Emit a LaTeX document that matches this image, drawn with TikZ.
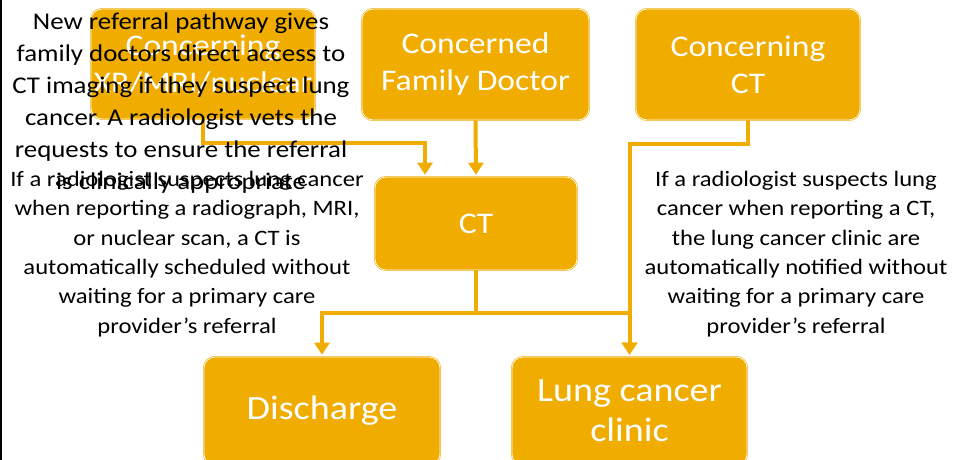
\documentclass[tikz,border=0pt]{standalone}
\usepackage{fontspec}
\setmainfont{Carlito}[FakeStretch=1.12]
\usetikzlibrary{arrows.meta}
\definecolor{boxorange}{HTML}{F0AD00}
\frenchspacing
\tikzset{
  x=1pt, y=-1pt,
  flowbox/.style={draw=boxorange, double=white, double distance=0.7pt, line width=0.6pt,
    fill=boxorange, rounded corners=11pt, text=white, align=center, inner sep=0pt,
    font=\fontsize{30}{37}\selectfont},
  note/.style={text=black, align=center, inner sep=0pt},
  conn/.style={draw=boxorange, line width=4pt},
  arr/.style={conn, -{Triangle[width=15pt,length=12pt]}, shorten >=2pt},
}
\begin{document}
\begin{tikzpicture}
\useasboundingbox (0,0) rectangle (954,460);
\draw[black, line width=2pt] (1,0) -- (1,460);
% boxes
\node[flowbox, minimum width=224pt, minimum height=110pt] (b1) at (203,64) {Concerning\\XR/MRI/nuclear};
\node[flowbox, minimum width=227pt, minimum height=111pt] (b2) at (475.5,64.5) {Concerned\\Family Doctor};
\node[flowbox, minimum width=224pt, minimum height=111pt] (b3) at (748,64.5) {Concerning\\CT};
\node[flowbox, minimum width=202pt, minimum height=93pt] (ct) at (476,223.5) {CT};
\node[flowbox, minimum width=236pt, minimum height=108pt, font=\fontsize{34}{40}\selectfont] (dis) at (322,411) {Discharge};
\node[flowbox, minimum width=235pt, minimum height=108pt, font=\fontsize{34}{40}\selectfont] (lung) at (629.5,411) {Lung cancer\\clinic};
% connectors
\draw[arr] (b1.south) -- ++(0,24) -| ([xshift=-51pt]ct.north);
\draw[arr] (b2.south) -- (ct.north);
\draw[arr] (b3.south) -- ++(0,24) -| (lung.north);
\draw[arr] (ct.south) -- ++(0,43) -| (dis.north);
\draw[arr] (ct.south) -- ++(0,43) -| (lung.north);
% notes
\node[note, font=\fontsize{24}{32}\selectfont] (n1) at (181,103) {New referral pathway gives\\family doctors direct access to\\CT imaging if they suspect lung\\cancer. A radiologist vets the\\requests to ensure the referral\\is clinically appropriate};
\node[note, font=\fontsize{22}{29.3}\selectfont] (n2) at (187,254) {If a radiologist suspects lung cancer\\when reporting a radiograph, MRI,\\or nuclear scan, a CT is\\automatically scheduled without\\waiting for a primary care\\provider’s referral};
\node[note, font=\fontsize{22}{29.3}\selectfont] (n3) at (796,254) {If a radiologist suspects lung\\cancer when reporting a CT,\\the lung cancer clinic are\\automatically notified without\\waiting for a primary care\\provider’s referral};
\end{tikzpicture}
\end{document}
